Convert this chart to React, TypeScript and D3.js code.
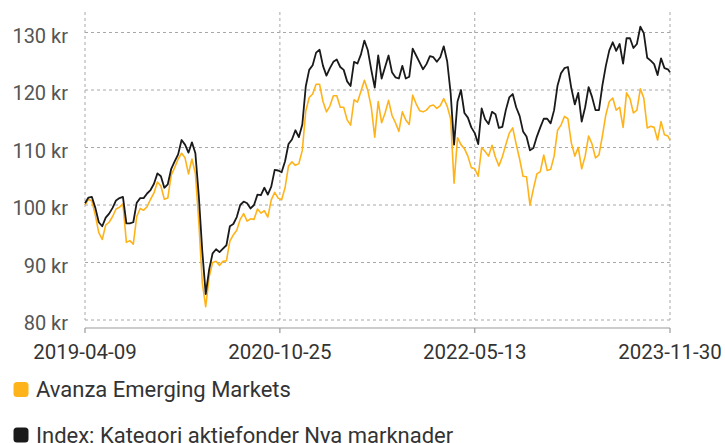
import React from "react";
import * as d3 from "d3";

// Regular 10-day sampling grid from start date, last point on end date
const START_DATE = "2019-04-09";
const END_DATE = "2023-11-30";
const STEP_DAYS = 10;

const fundValues = [
  100, 101.0, 100.7, 98.2, 95.2, 94.0, 96.5, 97.0, 98.0, 99.3,
  99.6, 100.2, 93.5, 93.8, 93.2, 98.0, 99.4, 99.1, 99.7, 101.0,
  102.1, 104.0, 103.3, 101.0, 101.2, 105.2, 106.5, 108.0, 109.0, 108.2,
  105.4, 108.0, 105.5, 97.0, 86.5, 82.3, 87.5, 90.0, 90.2, 89.5,
  90.2, 90.3, 93.7, 94.8, 95.6, 97.5, 98.5, 97.2, 97.6, 97.5,
  99.3, 98.6, 99.0, 97.9, 100.9, 102.2, 101.2, 100.9, 103.0, 106.8,
  107.5, 106.9, 107.2, 109.5, 116.3, 118.7, 119.3, 121.0, 121.0, 118.0,
  116.2, 117.2, 119.0, 119.0, 117.0, 117.0, 114.8, 113.9, 118.3, 117.9,
  119.8, 121.7, 119.9, 117.0, 111.8, 118.0, 114.3, 116.0, 118.2, 115.6,
  114.3, 112.8, 116.2, 114.8, 114.0, 119.1, 117.6, 116.4, 116.2, 116.5,
  117.2, 117.4, 116.8, 117.3, 118.5, 117.2, 115.0, 103.8, 111.7, 110.5,
  109.8, 108.5, 106.5, 106.3, 105.0, 110.0, 109.3, 108.5, 110.4, 108.3,
  106.8, 108.4, 110.5, 112.5, 113.4, 110.6, 108.0, 105.0, 104.9, 100.0,
  102.8, 105.4, 105.8, 108.7, 106.0, 106.2, 108.5, 113.0, 113.9, 115.4,
  115.0, 110.8, 108.5, 110.0, 106.3, 108.5, 112.0, 110.6, 108.2, 108.7,
  112.0, 115.7, 118.0, 118.6, 116.5, 117.0, 113.5, 119.5, 118.5, 116.0,
  116.5, 120.2, 118.6, 113.4, 113.7, 113.5, 111.3, 114.5, 112.2, 112.0,
  111.3,
];

const indexValues = [
  100.3, 101.3, 101.4, 99.5, 97.0, 96.3, 97.8, 98.5, 99.5, 100.8,
  101.2, 101.4, 96.8, 96.8, 97.0, 100.4, 101.2, 101.2, 102.0, 102.6,
  103.7, 105.5, 105.0, 103.0, 103.6, 106.3, 107.6, 108.8, 111.3, 110.5,
  109.1, 110.9, 109.0, 101.5, 92.0, 84.5, 88.8, 91.6, 92.3, 91.8,
  92.4, 93.0, 96.3, 96.7, 97.9, 100.0, 100.6, 100.3, 99.4, 100.0,
  101.8, 101.7, 103.0, 101.8, 103.2, 106.1, 106.0, 105.7, 107.6, 110.6,
  111.4, 113.0, 111.8, 114.0, 120.6, 123.5, 124.3, 126.5, 127.0, 124.2,
  122.5, 123.8, 124.9, 125.3, 124.0, 123.5, 121.5, 120.7, 124.9, 124.6,
  126.2, 128.6, 126.9, 123.5, 120.4, 126.0, 122.0, 124.0, 126.0, 123.1,
  122.2, 122.0, 124.2, 122.0, 122.3, 127.2, 126.0, 124.8, 123.6, 124.5,
  125.9, 125.7, 124.9, 125.7, 127.6, 125.0, 119.5, 110.5, 118.0, 120.0,
  116.0, 115.2, 113.5, 112.5, 110.6, 116.8, 114.9, 114.1, 116.2, 115.8,
  113.4, 113.6, 116.5, 118.7, 119.3, 117.0, 115.5, 112.8, 111.9, 109.5,
  109.9, 111.9, 113.5, 115.0, 115.0, 114.2, 116.5, 120.8, 122.9, 123.8,
  124.0, 120.3, 117.5, 119.5, 114.5, 117.0, 120.5, 118.8, 116.5, 116.5,
  120.8, 124.2, 126.9, 128.3, 126.8, 128.0, 124.6, 129.0, 129.0, 127.3,
  128.0, 131.0, 129.9, 125.6, 125.1, 124.5, 122.6, 125.5, 123.8, 123.6,
  123.1,
];

const yTicks = [80, 90, 100, 110, 120, 130];
const xTickLabels = ["2019-04-09", "2020-10-25", "2022-05-13", "2023-11-30"];
const seriesNames = ["Avanza Emerging Markets", "Index: Kategori aktiefonder Nya marknader"];
const seriesColors = ["#FFB31A", "#1a1a1a"];

const parse = d3.timeParse("%Y-%m-%d");

export default function App() {
  const W = 725;
  const H = 443;
  const left = 85;
  const right = 670;

  const start = parse(START_DATE)!;
  const end = parse(END_DATE)!;
  const dates: Date[] = fundValues.map((_, i) =>
    i === fundValues.length - 1 ? end : d3.timeDay.offset(start, i * STEP_DAYS)
  );

  const x = d3.scaleTime().domain([start, end]).range([left, right]);
  const y = d3.scaleLinear().domain([80, 130]).range([320, 32.5]);

  const line = d3
    .line<number>()
    .x((_, i) => x(dates[i]))
    .y((v) => y(v))
    .curve(d3.curveLinear);

  const xTicks = xTickLabels.map((s) => parse(s)!);
  const font = "Roboto, 'Noto Sans', sans-serif";
  const gridTop = 12;

  return (
    <svg
      width={W}
      height={H}
      style={{ position: "absolute", left: 0, top: 0, background: "#fff" }}
    >
      {/* horizontal grid */}
      {yTicks.map((t) => (
        <line
          key={"h" + t}
          x1={left}
          x2={right}
          y1={y(t)}
          y2={y(t)}
          stroke="#a8a8a8"
          strokeWidth={1}
          strokeDasharray="3,3"
        />
      ))}
      {/* vertical grid */}
      {xTicks.map((d, i) => (
        <line
          key={"v" + i}
          x1={x(d)}
          x2={x(d)}
          y1={gridTop}
          y2={y(80)}
          stroke="#a8a8a8"
          strokeWidth={1}
          strokeDasharray="3,3"
        />
      ))}
      {/* x axis */}
      <line x1={left} x2={right} y1={328} y2={328} stroke="#9a9a9a" strokeWidth={1.2} />
      {xTicks.map((d, i) => (
        <line key={"t" + i} x1={x(d)} x2={x(d)} y1={328} y2={333} stroke="#9a9a9a" strokeWidth={1.2} />
      ))}
      {/* y labels */}
      {yTicks.map((t) => (
        <text
          key={"yl" + t}
          x={68}
          y={y(t) + 10}
          textAnchor="end"
          fontFamily={font}
          fontSize={20}
          fill="#555"
        >
          {t} kr
        </text>
      ))}
      {/* x labels */}
      {xTicks.map((d, i) => (
        <text
          key={"xl" + i}
          x={x(d)}
          y={358.5}
          textAnchor="middle"
          fontFamily={font}
          fontSize={20.5}
          fill="#333"
        >
          {xTickLabels[i]}
        </text>
      ))}
      {/* series */}
      <path d={line(fundValues) || ""} fill="none" stroke={seriesColors[0]} strokeWidth={1.6} strokeLinejoin="round" />
      <path d={line(indexValues) || ""} fill="none" stroke={seriesColors[1]} strokeWidth={1.8} strokeLinejoin="round" />
      {/* legend */}
      {seriesNames.map((name, i) => (
        <g key={"lg" + i} transform={`translate(0, ${i * 45.5})`}>
          <rect x={13.5} y={382} width={15} height={15} rx={3.5} fill={seriesColors[i]} />
          <text x={36} y={397} fontFamily={font} fontSize={22} fill="#333">
            {name}
          </text>
        </g>
      ))}
    </svg>
  );
}
